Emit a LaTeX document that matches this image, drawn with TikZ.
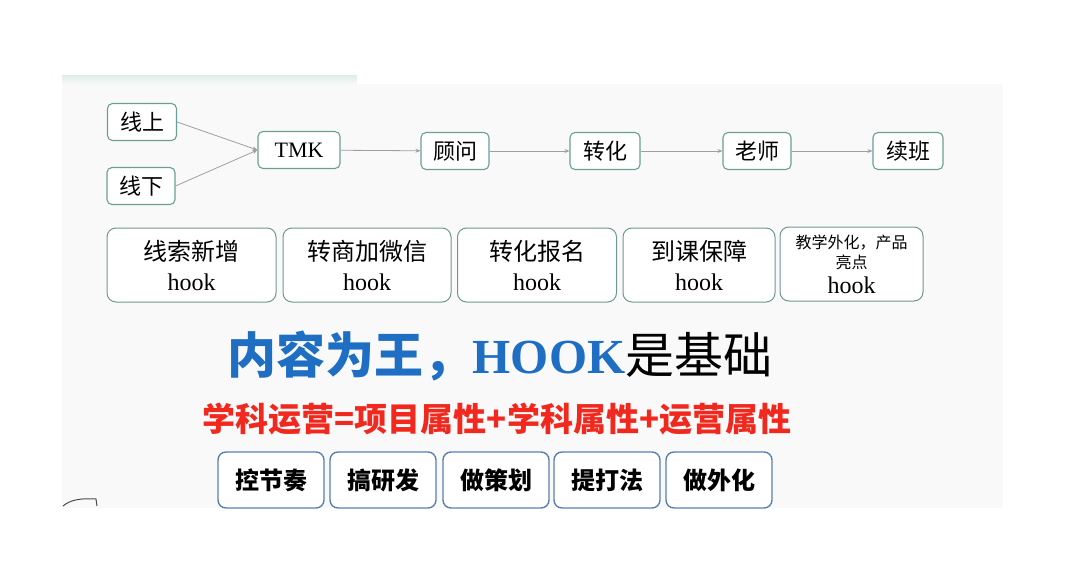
\documentclass[tikz,border=0pt]{standalone}
\usepackage{fontspec}
\setmainfont{Liberation Serif}
\newfontfamily\cjk{Noto Sans CJK SC}
\usetikzlibrary{arrows.meta,positioning}
\definecolor{boxTeal}   {RGB}{104, 160, 150}
\definecolor{hookTeal}  {RGB}{112, 152, 146}
\definecolor{taskBlue}  {RGB}{ 90, 128, 178}
\definecolor{titleBlue} {RGB}{ 30, 110, 195}
\definecolor{subRed}    {RGB}{240,  40,  30}
\definecolor{panelGray} {RGB}{249, 249, 249}
\definecolor{stripTeal} {RGB}{222, 236, 232}

\begin{document}
\begin{tikzpicture}[x=1pt,y=-1pt,
    flowbox/.style={draw=boxTeal,fill=white,rounded corners=5pt,line width=1.1pt,
      minimum height=37pt,inner sep=0pt,font=\cjk\fontsize{22}{24}\selectfont},
    hookbox/.style={draw=hookTeal,fill=white,rounded corners=9pt,line width=1pt,
      minimum height=74pt,inner sep=0pt,align=center,font=\fontsize{24}{30}\selectfont},
    taskbox/.style={draw=taskBlue,fill=white,rounded corners=8pt,line width=1.4pt,
      minimum width=106pt,minimum height=56pt,inner sep=0pt,
      font=\cjk\bfseries\fontsize{24}{26}\selectfont},
    flowarrow/.style={-{Stealth[length=5pt,width=4pt]},gray!75,line width=0.8pt}]

    \useasboundingbox (0,0) rectangle (1080,570);

    % ── 背景 ───────────────────────────────────────────────
    \fill[panelGray] (62,84) rectangle (1003,508);
    \shade[top color=stripTeal,bottom color=panelGray] (62,75) rectangle (357,84);

    % ── 流程 ───────────────────────────────────────────────
    \node[flowbox,minimum width=69pt] (online)  at (142,122){线上};
    \node[flowbox,minimum width=68pt] (offline) at (141,186){线下};
    \node[flowbox,minimum width=82pt,font=\fontsize{22}{24}\selectfont] (tmk) at (299,150){TMK};
    \node[flowbox,minimum width=68pt] (adviser) at (455,151){顾问};
    \node[flowbox,minimum width=70pt] (convert) at (605,151){转化};
    \node[flowbox,minimum width=68pt] (teacher) at (757,151){老师};
    \node[flowbox,minimum width=70pt] (renew)   at (908,151){续班};

    \draw[flowarrow] (online.east)  -- (tmk.west);
    \draw[flowarrow] (offline.east) -- (tmk.west);
    \draw[flowarrow] (tmk)     -- (adviser);
    \draw[flowarrow] (adviser) -- (convert);
    \draw[flowarrow] (convert) -- (teacher);
    \draw[flowarrow] (teacher) -- (renew);

    % ── hook ───────────────────────────────────────────────
    \node[hookbox,minimum width=169pt] (hookA) at (191.5,265){{\cjk 线索新增}\\hook};
    \node[hookbox,minimum width=168pt] (hookB) at (367,265){{\cjk 转商加微信}\\hook};
    \node[hookbox,minimum width=159pt] (hookC) at (537,265){{\cjk 转化报名}\\hook};
    \node[hookbox,minimum width=152pt] (hookD) at (699,265){{\cjk 到课保障}\\hook};
    \node[hookbox,minimum width=143pt] (hookE) at (851.5,264)
      {{\cjk\fontsize{16}{18}\selectfont 教学外化，产品}\\[-10pt]
       {\cjk\fontsize{16}{18}\selectfont 亮点}\\[-5pt]hook};

    % ── 标题 ───────────────────────────────────────────────
    \node[font=\fontsize{49}{52}\selectfont] (title) at (500,356)
      {{\cjk\bfseries\color{titleBlue}内容为王，}{\bfseries\color{titleBlue}HOOK}{\cjk 是基础}};
    \node[font=\cjk\bfseries\fontsize{33}{36}\selectfont,subRed] (formula) at (497,419)
      {学科运营=项目属性+学科属性+运营属性};

    % ── 动作 ───────────────────────────────────────────────
    \foreach \x/\n/\t in {271/rhythm/控节奏,383/research/搞研发,496/plan/做策划,
                          607/method/提打法,719/outward/做外化}{
      \node[taskbox] (\n) at (\x,480){\t};
    }

    % 角落残迹
    \draw[gray!60!black,line width=1pt] (63,506) .. controls (70,500) and (80,498) .. (96,499) -- (97,506);

\end{tikzpicture}
\end{document}
